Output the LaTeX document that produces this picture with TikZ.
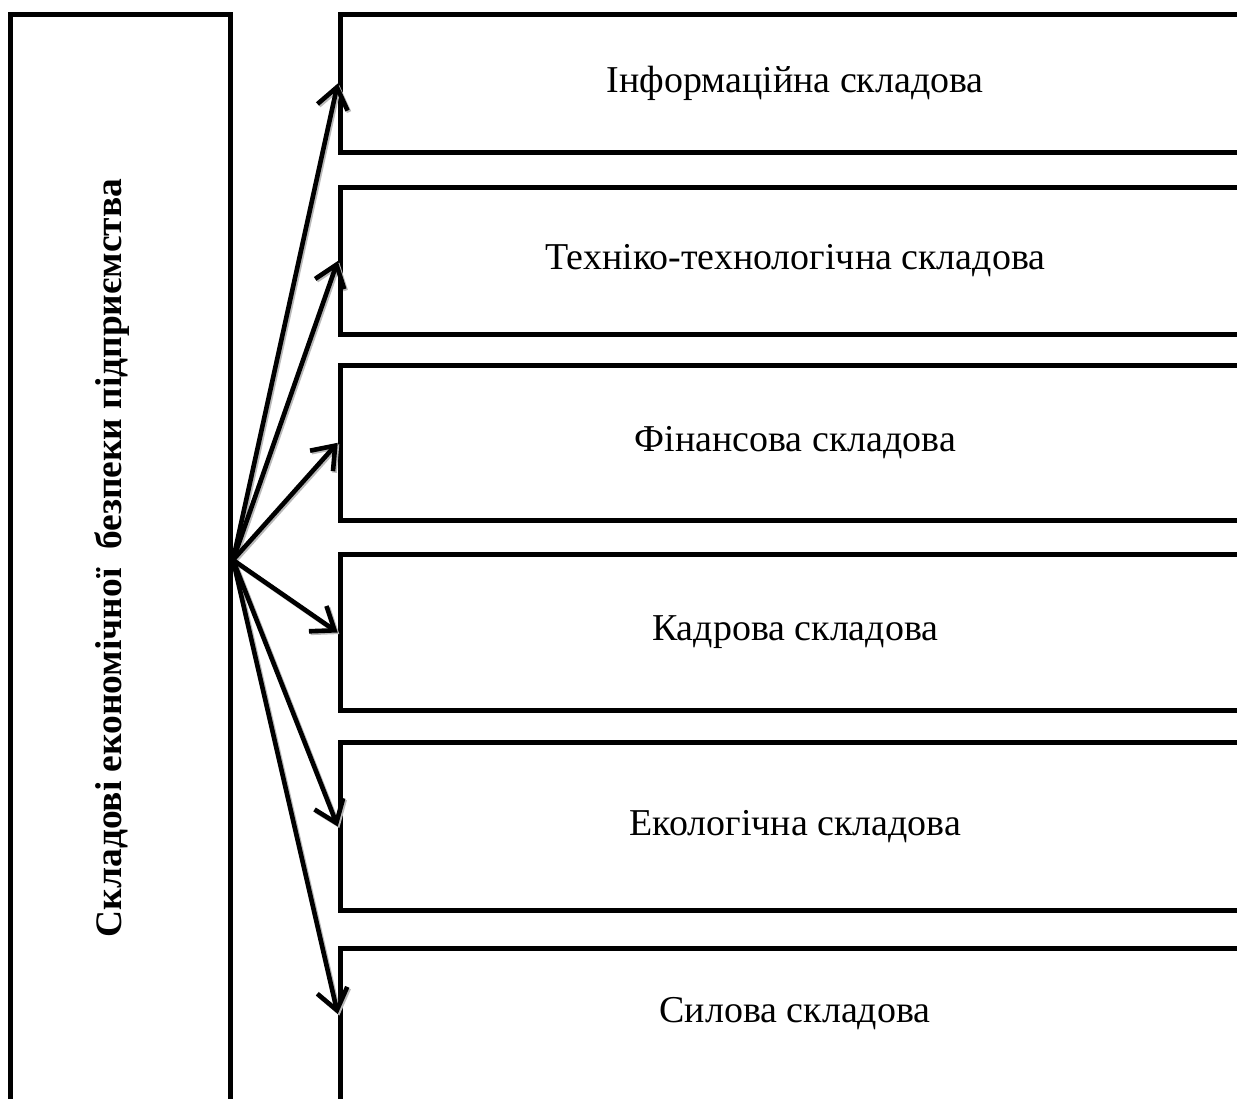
\documentclass[tikz,border=0pt]{standalone}
\usepackage{fontspec}
\setmainfont{Liberation Serif}
\usetikzlibrary{arrows.meta}
\newcommand{\pxu}{0.39pt}
\newcommand{\partfont}{\fontsize{14.8}{17}\selectfont}
\tikzset{
  mainbox/.style={draw,line width=1.95pt,minimum width=220.5*\pxu,minimum height=1091*\pxu,inner sep=0pt},
  partbox/.style={draw,line width=1.95pt,minimum width=910*\pxu,inner sep=0pt,font=\partfont},
  partarrow/.style={->,>={Straight Barb[length=8pt,width=12pt,line width=1.8pt]},line width=1.8pt,line cap=round},
  partshadow/.style={partarrow,draw=gray!55}
}
\begin{document}
\begin{tikzpicture}[x=\pxu,y=-\pxu]
\useasboundingbox (0,0) rectangle (1237,1099);
\clip (0,0) rectangle (1237,1099);
\node[mainbox] (main) at (120.25,560) {};
\node[rotate=90,font=\fontsize{14.6}{17}\selectfont\bfseries] (maintext) at (112,558) {Складові економічної\ \ безпеки підприємства};
\node[partbox,minimum height=138*\pxu] (b1) at (795.25,83.5) {Інформаційна складова};
\node[partbox,minimum height=147*\pxu] (b2) at (795.25,261) {Техніко-технологічна складова};
\node[partbox,minimum height=155.5*\pxu] (b3) at (795.25,442.75) {Фінансова складова};
\node[partbox,minimum height=156*\pxu] (b4) at (795.25,632.5) {Кадрова складова};
\node[partbox,minimum height=168*\pxu] (b5) at (795.25,826.5) {Екологічна складова};
\node[partbox,minimum height=172*\pxu] (b6) at (795.25,1034) {};
\node[font=\partfont] (t6) at (795,1014) {Силова складова};
% shadows under the arrows
\begin{scope}[transform canvas={shift={(0.6pt,-0.6pt)}}]
\foreach \b in {b1,b2,b3,b4,b5}
  \draw[partshadow] (main.east) -- (\b.west);
\draw[partshadow] (main.east) -- (b6.west |- t6);
\end{scope}
\foreach \b in {b1,b2,b3,b4,b5}
  \draw[partarrow] (main.east) -- (\b.west);
\draw[partarrow] (main.east) -- (b6.west |- t6);
\end{tikzpicture}
\end{document}
